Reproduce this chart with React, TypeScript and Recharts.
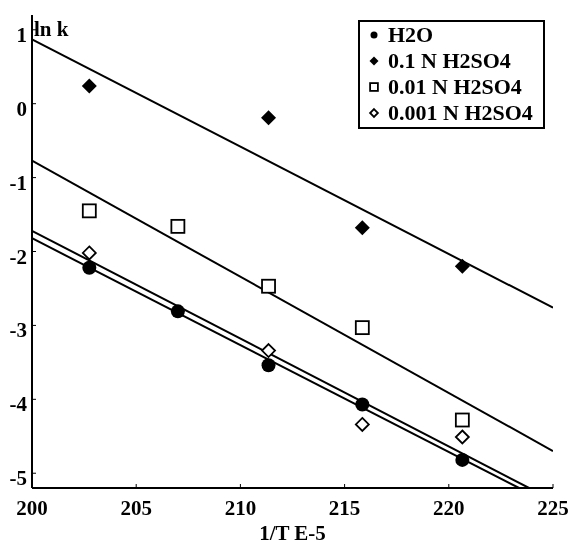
import { ComposedChart, ReferenceLine, Scatter, XAxis, YAxis } from 'recharts'

// 1/T (E-5) positions of the runs
const xFive = [202.75, 207.0, 211.35, 215.85, 220.65]
const xFour = [202.75, 211.35, 215.85, 220.65]

// ln k values
const h2o = [-2.22, -2.81, -3.54, -4.07, -4.82]
const n01 = [0.24, -0.19, -1.68, -2.2]
const n001 = [-1.45, -1.66, -2.47, -3.03, -4.28]
const n0001 = [-2.02, -3.34, -4.34, -4.51]

// fitted lines: [x0, y0, x1, y1]
const fitN01 = [200, 0.87, 225, -2.76]
const fitN001 = [200, -0.77, 225, -4.7]
const fitN0001 = [200, -1.72, 223.85, -5.2]
const fitH2O = [200, -1.82, 223.37, -5.2]

const xTicks = [200, 205, 210, 215, 220, 225]
const yTicks = [1, 0, -1, -2, -3, -4, -5]

const FONT = '"Liberation Serif", "Times New Roman", serif'

const pts = (xs: number[], ys: number[]) => xs.map((x, i) => ({ x, y: ys[i] }))

type Kind = 'dot' | 'diamond' | 'square' | 'odiamond'

function Mark({ cx, cy, kind, s = 1 }: { cx: number; cy: number; kind: Kind; s?: number }) {
  if (kind === 'dot') return <circle cx={cx} cy={cy} r={7 * s} fill="#000" />
  if (kind === 'diamond') {
    const h = 7.5 * s
    return <polygon points={`${cx},${cy - h} ${cx + h},${cy} ${cx},${cy + h} ${cx - h},${cy}`} fill="#000" />
  }
  if (kind === 'square') {
    const h = 6.5 * s
    return <rect x={cx - h} y={cy - h} width={2 * h} height={2 * h} fill="#fff" stroke="#000" strokeWidth={1.8} />
  }
  const h = 6.5 * s
  return (
    <polygon
      points={`${cx},${cy - h} ${cx + h},${cy} ${cx},${cy + h} ${cx - h},${cy}`}
      fill="#fff"
      stroke="#000"
      strokeWidth={1.8}
    />
  )
}

const series: { name: string; kind: Kind; data: { x: number; y: number }[] }[] = [
  { name: 'H2O', kind: 'dot', data: pts(xFive, h2o) },
  { name: '0.1 N H2SO4', kind: 'diamond', data: pts(xFour, n01) },
  { name: '0.01 N H2SO4', kind: 'square', data: pts(xFive, n001) },
  { name: '0.001 N H2SO4', kind: 'odiamond', data: pts(xFour, n0001) },
]

const fits = [fitN01, fitN001, fitN0001, fitH2O]

function LegendBox() {
  return (
    <div
      style={{
        position: 'absolute',
        left: 358,
        top: 20,
        width: 183,
        height: 105,
        border: '2px solid #000',
        background: '#fff',
        fontFamily: FONT,
        fontWeight: 'bold',
        fontSize: 22,
        boxSizing: 'content-box',
      }}
    >
      {series.map((s) => (
        <div key={s.name} style={{ display: 'flex', alignItems: 'center', height: 26, lineHeight: '26px' }}>
          <svg width={28} height={26} style={{ flex: 'none' }}>
            <Mark cx={14} cy={13} kind={s.kind} s={s.kind === 'dot' ? 0.5 : 0.6} />
          </svg>
          <span style={{ whiteSpace: 'nowrap' }}>{s.name}</span>
        </div>
      ))}
    </div>
  )
}

const XTick = ({ x, y, payload }: any) => (
  <text x={x} y={y + 27} textAnchor="middle" fontFamily={FONT} fontWeight="bold" fontSize={21} fill="#000">
    {payload.value}
  </text>
)

const YTick = ({ x, y, payload }: any) => (
  <text x={x} y={y + 12} textAnchor="end" fontFamily={FONT} fontWeight="bold" fontSize={21} fill="#000">
    {payload.value}
  </text>
)

export default function App() {
  // fixed at the page corner so the full-size chart never makes the page scroll
  return (
    <div style={{ position: 'fixed', left: 0, top: 0, width: 571, height: 544 }}>
      <ComposedChart width={571} height={544} margin={{ top: 15, right: 18, bottom: 0, left: 8 }}>
        <XAxis
          xAxisId={0}
          type="number"
          dataKey="x"
          domain={[200, 225]}
          ticks={xTicks}
          allowDataOverflow
          height={56}
          axisLine={{ stroke: '#000', strokeWidth: 2 }}
          tickLine={{ stroke: '#000' }}
          tickSize={-4}
          tickMargin={4}
          tick={<XTick />}
          label={{
            content: ({ viewBox }: any) => (
              <text
                x={viewBox.x + viewBox.width / 2}
                y={viewBox.y + 52}
                textAnchor="middle"
                fontFamily={FONT}
                fontWeight="bold"
                fontSize={21}
                fill="#000"
              >
                1/T E-5
              </text>
            ),
          }}
        />
        <XAxis
          xAxisId="top"
          orientation="top"
          type="number"
          domain={[200, 225]}
          ticks={xTicks}
          height={0}
          axisLine={{ stroke: '#000', strokeWidth: 1 }}
          tickLine={{ stroke: '#000' }}
          tickSize={-4}
          tick={false}
        />
        <YAxis
          yAxisId={0}
          type="number"
          domain={[-5.2, 1.2]}
          ticks={yTicks}
          allowDataOverflow
          width={24}
          axisLine={{ stroke: '#000', strokeWidth: 2 }}
          tickLine={{ stroke: '#000' }}
          tickSize={-4}
          tickMargin={9}
          tick={<YTick />}
          label={{
            content: ({ viewBox }: any) => (
              <text
                x={viewBox.x + viewBox.width + 2}
                y={viewBox.y + 21}
                textAnchor="start"
                fontFamily={FONT}
                fontWeight="bold"
                fontSize={21}
                fill="#000"
              >
                ln k
              </text>
            ),
          }}
        />
        <YAxis
          yAxisId="right"
          orientation="right"
          type="number"
          domain={[-5.2, 1.2]}
          ticks={yTicks}
          width={0}
          axisLine={{ stroke: '#000', strokeWidth: 1 }}
          tickLine={{ stroke: '#000' }}
          tickSize={-4}
          tick={false}
        />
        {fits.map((f, i) => (
          <ReferenceLine
            key={i}
            segment={[
              { x: f[0], y: f[1] },
              { x: f[2], y: f[3] },
            ]}
            stroke="#000"
            strokeWidth={2}
            ifOverflow="hidden"
          />
        ))}
        {series.map((s) => (
          <Scatter
            key={s.name}
            name={s.name}
            data={s.data}
            dataKey="y"
            isAnimationActive={false}
            shape={(p: any) => <Mark cx={p.cx} cy={p.cy} kind={s.kind} />}
          />
        ))}
      </ComposedChart>
      <LegendBox />
    </div>
  )
}
